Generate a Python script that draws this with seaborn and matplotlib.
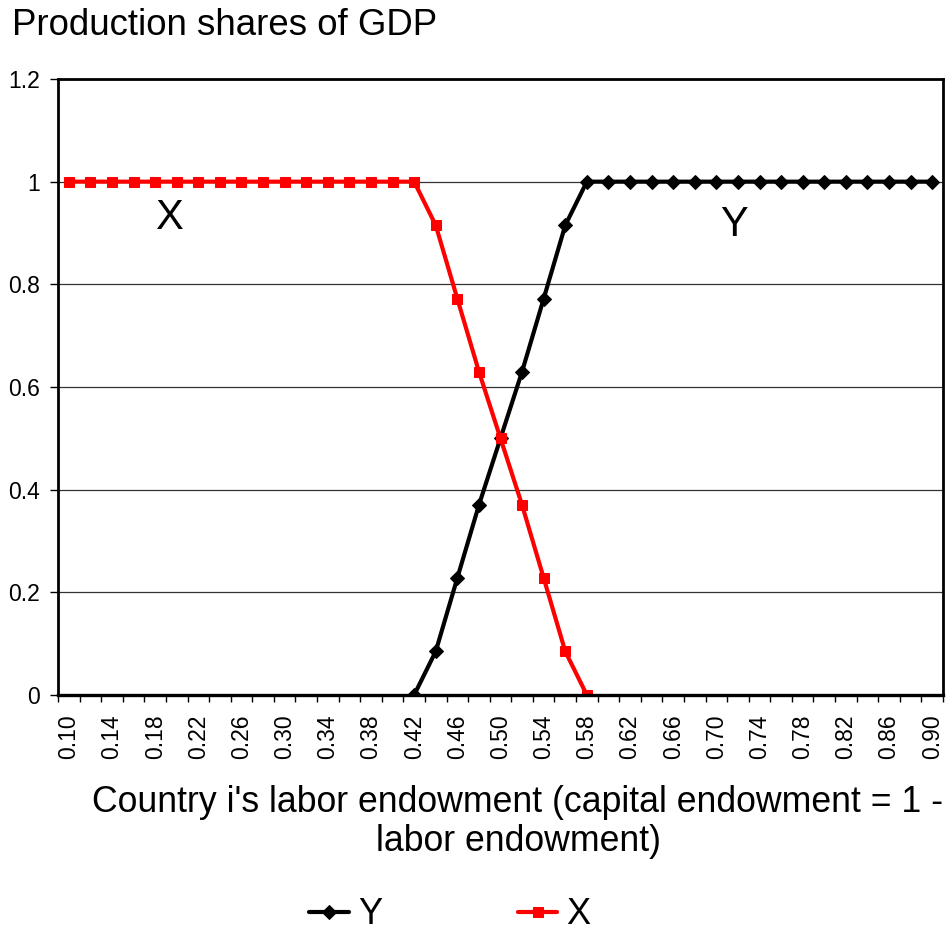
import numpy as np
import pandas as pd
import seaborn as sns
import matplotlib
matplotlib.use("Agg")
import matplotlib.pyplot as plt
from matplotlib.ticker import FixedLocator, FuncFormatter

# Labor endowment of country i (categories along the horizontal axis)
labor = [0.10, 0.12, 0.14, 0.16, 0.18, 0.20, 0.22, 0.24, 0.26, 0.28,
         0.30, 0.32, 0.34, 0.36, 0.38, 0.40, 0.42, 0.44, 0.46, 0.48,
         0.50, 0.52, 0.54, 0.56, 0.58, 0.60, 0.62, 0.64, 0.66, 0.68,
         0.70, 0.72, 0.74, 0.76, 0.78, 0.80, 0.82, 0.84, 0.86, 0.88, 0.90]

# Production share of good Y (drawn from 0.42 upward)
share_y = [None] * 16 + [0.0, 0.085, 0.228, 0.370, 0.500, 0.630, 0.772, 0.915] + [1.0] * 17

# Production share of good X (drawn up to 0.58)
share_x = [1.0] * 17 + [0.915, 0.772, 0.630, 0.500, 0.370, 0.228, 0.085, 0.0] + [None] * 16

y_ticks = [0.0, 0.2, 0.4, 0.6, 0.8, 1.0, 1.2]
x_tick_labels = ["%.2f" % v for v in labor[::2]]

sns.set_theme(style="white")
plt.rcParams["font.family"] = ["Liberation Sans", "DejaVu Sans"]
plt.rcParams["text.color"] = "black"
plt.rcParams["xtick.color"] = "black"
plt.rcParams["ytick.color"] = "black"
plt.rcParams["xtick.labelcolor"] = "black"
plt.rcParams["ytick.labelcolor"] = "black"

df = pd.DataFrame({"labor": labor, "Y": share_y, "X": share_x})
df_y = df[["labor", "Y"]].dropna()
df_x = df[["labor", "X"]].dropna()

W, H = 951, 934
fig = plt.figure(figsize=(W / 100, H / 100), dpi=100)
ax = fig.add_axes([58 / W, 1 - 695 / H, (943 - 58) / W, (695 - 79) / H])

sns.lineplot(data=df_y, x="labor", y="Y", ax=ax, color="black", lw=3.0,
             marker="D", markersize=9, markeredgecolor="black", label="Y")
sns.lineplot(data=df_x, x="labor", y="X", ax=ax, color="#ff0000", lw=3.0,
             marker="s", markersize=7.5, markeredgecolor="#ff0000", label="X")

ax.set_xlim(0.09, 0.91)
ax.set_ylim(0, 1.2)

# Horizontal gridlines
ax.set_yticks(y_ticks)
ax.yaxis.set_major_formatter(FuncFormatter(lambda v, p: "%g" % round(v, 1)))
ax.grid(axis="y", color="#333333", lw=0.9)
ax.grid(axis="x", visible=False)

# Labels every 0.04, tick marks between categories
ax.xaxis.set_major_locator(FixedLocator(labor[::2]))
ax.set_xticklabels(x_tick_labels, rotation=90)
ax.xaxis.set_minor_locator(FixedLocator([0.09 + 0.02 * i for i in range(42)]))
ax.tick_params(axis="x", which="major", length=0, labelsize=16.5, pad=14)
ax.tick_params(axis="x", which="minor", length=5, width=1, color="black",
               direction="out", bottom=True)
ax.tick_params(axis="y", length=6, width=1, color="black", direction="out",
               labelsize=16.5, pad=7, left=True)

for side in ["left", "right", "top", "bottom"]:
    ax.spines[side].set_visible(True)
    ax.spines[side].set_color("black")
    ax.spines[side].set_linewidth(2)
ax.spines["bottom"].set_linewidth(2.4)

ax.set_xlabel("")
ax.set_ylabel("")

# In-plot series labels
ax.text(0.193, 0.93, "X", fontsize=30, ha="center", va="center")
ax.text(0.716, 0.915, "Y", fontsize=30, ha="center", va="center")

fig.text(12 / W, 1 - 25.5 / H, "Production shares of GDP", fontsize=26.4,
         ha="left", va="center")
fig.text(518 / W, 1 - 822 / H,
         "Country i's labor endowment (capital endowment = 1 -\nlabor endowment)",
         fontsize=25.7, ha="center", va="center", multialignment="center",
         linespacing=1.15)

ax.get_legend().remove()
handles, labels = ax.get_legend_handles_labels()
for h in handles:
    h.set_markersize(7)
fig.legend(handles, labels, loc="center", bbox_to_anchor=(450 / W, 1 - 915 / H),
           ncol=2, frameon=False, fontsize=26, handlelength=1.1,
           handletextpad=0.25, columnspacing=3.75)

fig.savefig("out.png", dpi=100, facecolor="white")
